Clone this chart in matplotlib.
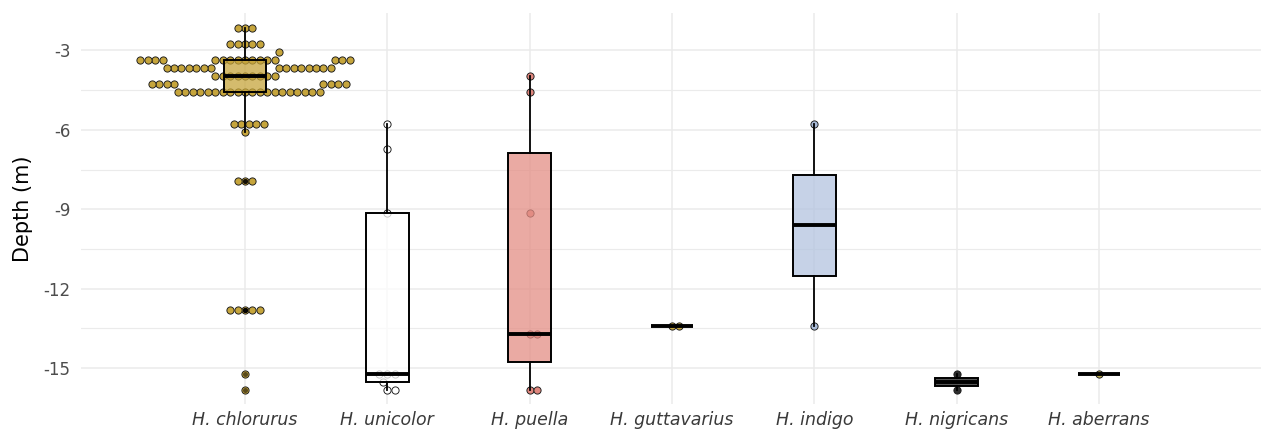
import numpy as np
import matplotlib.pyplot as plt

plt.rcParams['font.family'] = ['DejaVu Sans']
plt.rcParams['axes.unicode_minus'] = False

species = ['H. chlorurus', 'H. unicolor', 'H. puella', 'H. guttavarius',
           'H. indigo', 'H. nigricans', 'H. aberrans']

# depths were logged in feet; number of fish seen at each depth
chlorurus_ft = [7, 9, 10, 11, 12, 13, 14, 15, 19, 20, 26, 42, 50, 52]
chlorurus_n = [3, 5, 1, 16, 15, 9, 8, 20, 5, 1, 3, 5, 1, 1]
unicolor_ft = [19, 22, 30, 50, 51, 52]
unicolor_n = [1, 1, 1, 3, 1, 2]
puella_ft = [13, 15, 30, 45, 52]
puella_n = [1, 1, 1, 2, 2]
guttavarius_ft = [44]
guttavarius_n = [2]
indigo_ft = [19, 44]
indigo_n = [1, 1]
nigricans_ft = [50, 52]
nigricans_n = [1, 1]
aberrans_ft = [50]
aberrans_n = [1]

dot_colors = ['#C6A53C', '#FFFFFF', '#E0877E', '#C6A53C', '#A9BBD8', '#2E2E2E', '#BDB052']
box_colors = ['#C6A53C', '#FFFFFF', '#E48E85', '#C6A53C', '#B3C4DF', '#1E1E1E', '#BDB052']

ft_lists = [chlorurus_ft, unicolor_ft, puella_ft, guttavarius_ft, indigo_ft, nigricans_ft, aberrans_ft]
n_lists = [chlorurus_n, unicolor_n, puella_n, guttavarius_n, indigo_n, nigricans_n, aberrans_n]
depths = [-0.3048 * np.repeat(f, n) for f, n in zip(ft_lists, n_lists)]


# swarm layout like beeswarm (priority ascending)
def swarm(values, dsize):
    v = np.asarray(values, dtype=float) / dsize
    order = np.argsort(v, kind='stable')
    xs = np.zeros(len(v))
    placed = []
    for i in order:
        near = [j for j in placed if abs(v[i] - v[j]) < 1]
        if near:
            dy = np.array([v[i] - v[j] for j in near])
            px = np.array([xs[j] for j in near])
            off = np.sqrt(1 - dy ** 2)
            cands = np.concatenate([[0.0], px + off, px - off])
            bad = [np.any((c - px) ** 2 + dy ** 2 < 0.999) for c in cands]
            cands = np.where(bad, np.inf, cands)
            xs[i] = cands[np.argmin(np.abs(cands))]
        placed.append(i)
    return xs


fig = plt.figure(figsize=(12.61, 4.32), dpi=100)
ax = fig.add_axes([81 / 1261, 1 - 404 / 432, 1180 / 1261, 391 / 432])

xunit = 7.45 / 142.33
for i, d in enumerate(depths):
    off = swarm(d, 0.3048 / 0.85)
    ax.scatter(i + 1 + off * xunit, d, s=27, c=dot_colors[i], edgecolors='#1A1A1A',
               linewidths=0.65, zorder=2)

bp = ax.boxplot(depths, positions=range(1, 8), widths=0.3, patch_artist=True,
                showcaps=False,
                medianprops=dict(color='black', linewidth=2.8),
                boxprops=dict(linewidth=1.4, edgecolor='black'),
                whiskerprops=dict(linewidth=1.3, color='black'),
                flierprops=dict(marker='o', markerfacecolor='black', markeredgecolor='none',
                                markersize=3.6, alpha=0.55),
                zorder=3)
for patch, col in zip(bp['boxes'], box_colors):
    rgba = plt.matplotlib.colors.to_rgba(col, 0.75)
    patch.set_facecolor(rgba)

ax.set_xlim(1 - 164 / 142.33, 1 + 1016 / 142.33)
ax.set_ylim(-16.36, -1.583)
ax.set_xticks(range(1, 8))
ax.set_xticklabels(species, fontstyle='italic', fontsize=12.5, color='#3A3A3A')
ax.set_yticks([-3, -6, -9, -12, -15])
ax.set_yticklabels(['-3', '-6', '-9', '-12', '-15'], fontsize=12, color='#4D4D4D')
ax.set_yticks([-4.5, -7.5, -10.5, -13.5], minor=True)
ax.tick_params(axis='both', which='both', length=0)
ax.tick_params(axis='y', pad=7.5)
ax.tick_params(axis='x', pad=5)
ax.grid(True, which='major', color='#EBEBEB', linewidth=1.1, zorder=0)
ax.grid(True, which='minor', axis='y', color='#EBEBEB', linewidth=0.8, zorder=0)
ax.set_axisbelow(True)
for s in ax.spines.values():
    s.set_visible(False)
ax.set_ylabel('Depth (m)', fontsize=15, color='black')
ax.yaxis.set_label_coords(-48 / 1180, 0.5)

fig.savefig('out.png', dpi=100)
